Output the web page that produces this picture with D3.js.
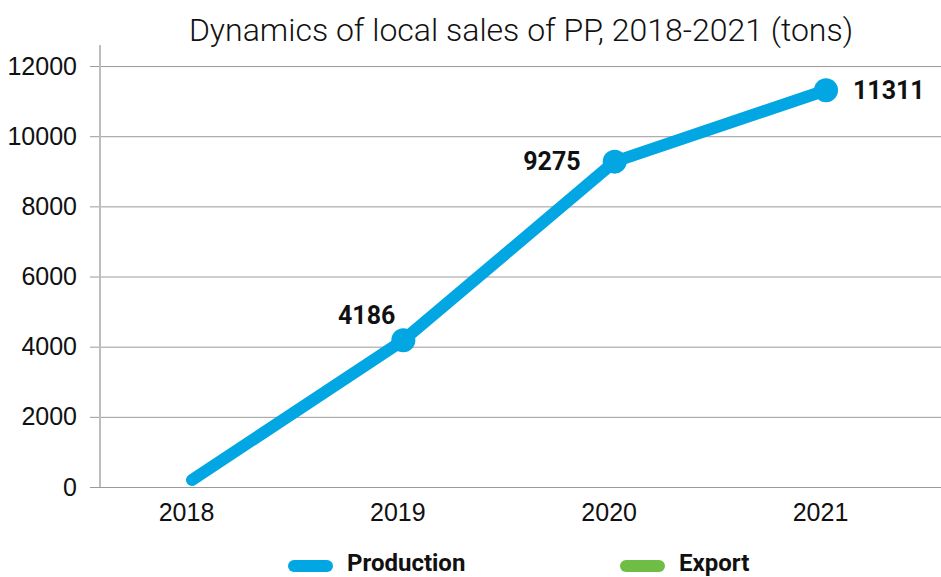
<!DOCTYPE html>
<html>
<head>
<meta charset="utf-8">
<script src="https://cdn.jsdelivr.net/npm/d3@7/dist/d3.min.js"></script>
<style>
  body { margin: 0; background: #fff; }
  svg { display: block; font-family: Roboto, "Noto Sans", sans-serif; }
</style>
</head>
<body>
<div id="chart"></div>
<script>
// chart data
const years = ["2018", "2019", "2020", "2021"];
const production = [200, 4186, 9275, 11311];
const exportValues = [null, null, null, null];
const shownLabels = [null, 4186, 9275, 11311];
const yTicks = [0, 2000, 4000, 6000, 8000, 10000, 12000];
const seriesNames = ["Production", "Export"];

const width = 941, height = 577;
const blue = "#02a6e2", green = "#70bd45";

const svg = d3.select("#chart").append("svg")
  .attr("width", width)
  .attr("height", height);

const x = d3.scalePoint().domain(years).range([192, 826]);
const y = d3.scaleLinear().domain([0, 12600]).range([487, 45]);

// title
svg.append("text")
  .attr("x", 521).attr("y", 41)
  .attr("text-anchor", "middle")
  .style("font-size", "32px")
  .style("font-weight", 300)
  .attr("fill", "#111")
  .text("Dynamics of local sales of PP, 2018-2021 (tons)");

// gridlines + y labels
const yAxis = svg.append("g")
  .attr("transform", "translate(100,0)")
  .call(d3.axisLeft(y).tickValues(yTicks).tickSize(-(width - 100)).tickSizeOuter(0).tickPadding(23).tickFormat(d3.format("d")));
yAxis.select(".domain").remove();
yAxis.selectAll(".tick line")
  .attr("x1", -10)
  .attr("stroke", "#9a9a9a");
yAxis.selectAll(".tick text")
  .style("font-size", "25px")
  .attr("fill", "#111");

// left axis line
svg.append("line")
  .attr("x1", 100).attr("x2", 100)
  .attr("y1", y.range()[1]).attr("y2", y(0))
  .attr("stroke", "#bdbdbd")
  .attr("stroke-width", 2);

// x labels
const xAxis = svg.append("g")
  .attr("transform", `translate(-6,${y(0)})`)
  .call(d3.axisBottom(x).tickSize(0).tickPadding(16));
xAxis.select(".domain").remove();
xAxis.selectAll(".tick text")
  .style("font-size", "25px")
  .attr("fill", "#111");

// lines
const line = d3.line()
  .defined(d => d != null)
  .x((d, i) => x(years[i]))
  .y(d => y(d));

svg.append("path")
  .datum(exportValues)
  .attr("fill", "none")
  .attr("stroke", green)
  .attr("stroke-width", 12)
  .attr("stroke-linecap", "round")
  .attr("d", line);

svg.append("path")
  .datum(production)
  .attr("fill", "none")
  .attr("stroke", blue)
  .attr("stroke-width", 12)
  .attr("stroke-linecap", "round")
  .attr("stroke-linejoin", "round")
  .attr("d", line);

// markers and labels (only for the labelled points)
const pts = production.map((v, i) => ({ year: years[i], value: v, label: shownLabels[i], i: i }))
  .filter(d => d.label != null);

svg.selectAll("circle.pt")
  .data(pts)
  .enter().append("circle")
  .attr("class", "pt")
  .attr("cx", d => x(d.year))
  .attr("cy", d => y(d.value))
  .attr("r", 12)
  .attr("fill", blue);

// label placement: above-left, left, right
const place = [null, { dx: -8, dy: -16, anchor: "end" }, { dx: -34, dy: 8, anchor: "end" }, { dx: 27, dy: 9, anchor: "start" }];
svg.selectAll("text.lbl")
  .data(pts)
  .enter().append("text")
  .attr("class", "lbl")
  .attr("x", d => x(d.year) + place[d.i].dx)
  .attr("y", d => y(d.value) + place[d.i].dy)
  .attr("text-anchor", d => place[d.i].anchor)
  .style("font-size", "25px")
  .style("font-weight", 700)
  .attr("fill", "#111")
  .text(d => d.label);

// legend
const legend = svg.append("g");
const legX = [288, 620];
const colors = [blue, green];
seriesNames.forEach((name, i) => {
  legend.append("line")
    .attr("x1", legX[i] + 6).attr("x2", legX[i] + 39)
    .attr("y1", 566).attr("y2", 566)
    .attr("stroke", colors[i])
    .attr("stroke-width", 12)
    .attr("stroke-linecap", "round");
  legend.append("text")
    .attr("x", legX[i] + 59).attr("y", 571)
    .style("font-size", "24px")
    .style("font-weight", 700)
    .attr("fill", "#111")
    .text(name);
});
</script>
</body>
</html>
